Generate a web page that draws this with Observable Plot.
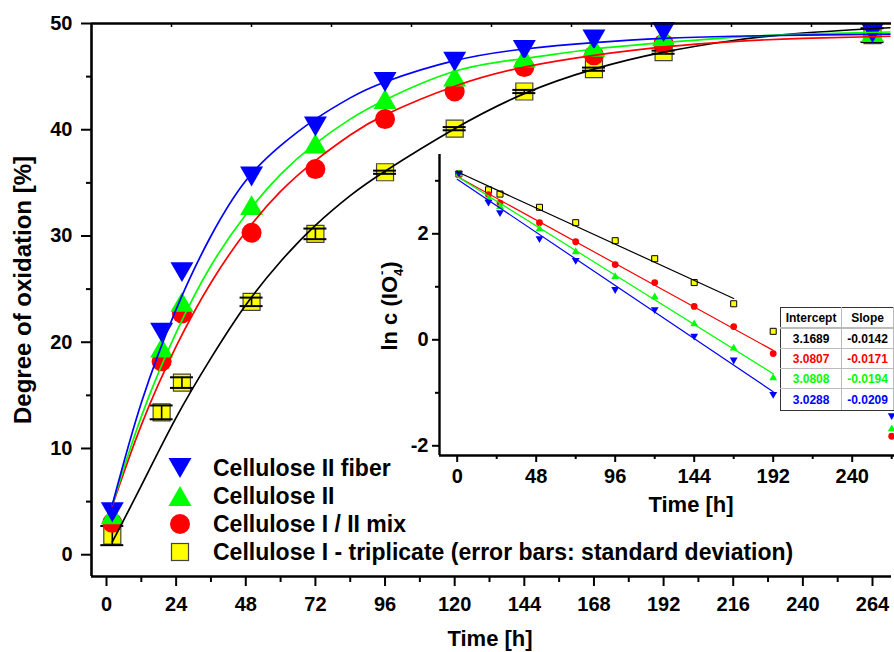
<!DOCTYPE html>
<html>
<head>
<meta charset="utf-8">
<script src="https://cdn.jsdelivr.net/npm/d3@7"></script>
<script src="https://cdn.jsdelivr.net/npm/@observablehq/plot@0.6"></script>
<style>
  body { margin: 0; background: #fff; }
  #wrap { position: relative; width: 894px; height: 652px; overflow: hidden; background: #fff;
          font-family: "Liberation Sans", Arial, sans-serif; font-weight: bold; color: #000; }
  .abs { position: absolute; white-space: nowrap; line-height: 1; }
  .title { font-size: 22px; transform: translate(-50%, -50%); }
  .vtitle { font-size: 22px; transform: translate(-50%, -50%) rotate(-90deg); }
  .leg { position: absolute; left: 168px; height: 24px; display: flex; align-items: center; font-size: 23px; white-space: nowrap; }
  .leg svg { width: 24px; height: 24px; margin-right: 21px; overflow: visible; }
  table.fit { position: absolute; left: 780px; top: 307px; border-collapse: collapse; background: #fff;
              font-size: 12px; font-weight: bold; border: 1.5px solid #333; }
  table.fit td { border: 1.5px solid #bbb; text-align: center; padding: 0; height: 19px; }
  table.fit tr:first-child td { border-bottom: 2.5px solid #bbb; }
  table.fit tr:last-child td { height: 21px; }
  table.fit td:first-child { width: 63px; border-left: 1.5px solid #333; }
  table.fit td:last-child { width: 54px; }
  table.fit tr:last-child td { border-bottom: 1.5px solid #333; }
  table.fit tr:first-child td { border-top: 1.5px solid #333; }
</style>
</head>
<body>
<div id="wrap"></div>
<script>
// ---------------- data ----------------
const seriesNames = ["Cellulose II fiber", "Cellulose II", "Cellulose I / II mix", "Cellulose I - triplicate (error bars: standard deviation)"];
const seriesColors = ["#0000ff", "#00ff00", "#ff0000", "#ffff00"];
const lineColors = ["#0000ff", "#00ff00", "#ff0000", "#000000"];

// main chart: degree of oxidation [%] vs time [h]
const times = [2, 19, 26, 50, 72, 96, 120, 144, 168, 192, 264];
const fiberDO = [4.0, 20.9, 26.6, 35.6, 40.3, 44.5, 46.4, 47.5, 48.5, 49.2, 49.1];
const cellIIDO = [3.8, 19.5, 23.8, 32.9, 38.7, 42.9, 45.0, 46.8, 47.8, 48.8, 49.2];
const mixDO = [3.0, 18.2, 22.7, 30.3, 36.3, 41.0, 43.6, 45.9, 47.0, 48.1, null];
const cellIDO = [1.8, 13.4, 16.2, 23.8, 30.2, 36.0, 40.1, 43.6, 45.7, 47.3, 48.9];
const cellISD = [0.9, 0.65, 0.5, 0.4, 0.5, 0.15, 0.15, 0.15, 0.15, 0.15, 0.65];

// fitted curves
const fitT = [2, 12, 24, 36, 48, 60, 72, 84, 96, 120, 144, 168, 192, 216, 240, 270];
const fiberFit = [4.7, 14.3, 23.1, 30.0, 35.2, 38.5, 41.0, 43.0, 44.5, 46.5, 47.6, 48.2, 48.6, 48.8, 48.9, 49.0];
const cellIIFit = [4.7, 13.0, 20.9, 27.2, 32.0, 35.8, 38.7, 41.0, 42.8, 45.5, 46.7, 47.6, 48.2, 48.7, 49.0, 49.2];
const mixFit = [4.6, 12.2, 19.6, 25.6, 30.4, 34.2, 37.1, 39.5, 41.4, 44.1, 45.9, 47.0, 47.8, 48.3, 48.6, 48.8];
const cellIFit = [1.2, 6.5, 12.9, 18.5, 23.5, 27.6, 31.0, 33.8, 36.1, 40.1, 43.4, 45.7, 47.3, 48.4, 49.1, 49.6];

// inset: ln c(IO4-) vs time [h]
const insetT = [1, 19, 26, 50, 72, 96, 120, 144, 168, 192, 264];
const fiberLn = [3.12, 2.58, 2.38, 1.89, 1.48, 0.93, 0.55, 0.05, -0.40, -1.05, -1.45];
const cellIILn = [3.15, 2.68, 2.53, 2.11, 1.68, 1.21, 0.83, 0.32, -0.14, -0.70, -1.66];
const mixLn = [3.12, 2.74, 2.58, 2.21, 1.85, 1.42, 1.08, 0.63, 0.25, -0.26, -1.82];
const cellILn = [3.13, 2.83, 2.75, 2.50, 2.21, 1.87, 1.53, 1.08, 0.68, 0.16];
// linear fit lines: [t start, ln start, t end, ln end]
const fiberLine = [0, 3.03, 192, -0.98];
const cellIILine = [0, 3.08, 192, -0.64];
const mixLine = [0, 3.08, 192, -0.20];
const cellILine = [0, 3.17, 168, 0.78];

// fit table
const tableHeader = ["Intercept", "Slope"];
const intercepts = ["3.1689", "3.0807", "3.0808", "3.0288"];
const slopes = ["-0.0142", "-0.0171", "-0.0194", "-0.0209"];
const tableColors = ["#000000", "#ff0000", "#00ff00", "#0000ff"];

// axes ticks
const xTicks = [0, 24, 48, 72, 96, 120, 144, 168, 192, 216, 240, 264];
const xMinor = [12, 36, 60, 84, 108, 132, 156, 180, 204, 228, 252];
const yTicks = [0, 10, 20, 30, 40, 50];
const yMinor = [5, 15, 25, 35, 45];
const ixTicks = [0, 48, 96, 144, 192, 240];
const ixMinor = [24, 72, 120, 168, 216, 264];
const iyTicks = [-2, 0, 2];
const iyMinor = [-1, 1, 3];

// ---------------- symbols ----------------
const triDown = { draw(ctx, size) { const r = Math.sqrt(size / Math.PI), hw = r * 1.35, hh = r * 1.17;
  ctx.moveTo(-hw, -hh); ctx.lineTo(hw, -hh); ctx.lineTo(0, hh); ctx.closePath(); } };
const triUp = { draw(ctx, size) { const r = Math.sqrt(size / Math.PI), hw = r * 1.35, hh = r * 1.17;
  ctx.moveTo(0, -hh); ctx.lineTo(hw, hh); ctx.lineTo(-hw, hh); ctx.closePath(); } };

const FONT = '"Liberation Sans", Arial, sans-serif';
const wrap = document.getElementById("wrap");

const rows = (xs, ys) => xs.map((t, i) => ({ t, v: ys[i] })).filter(d => d.v !== undefined && d.v !== null);
const seg = a => [{ t: a[0], v: a[1] }, { t: a[2], v: a[3] }];

// ---------------- main chart ----------------
const pxX = 766 / 264;          // pixels per hour
const xLo = -15 / pxX, xHi = xLo + 800 / pxX;
const yLo = -2.05, yHi = 50;
const pxY = 553 / (yHi - yLo);

const yellowRows = times.map((t, i) => ({ t, v: cellIDO[i], sd: cellISD[i] }));
const capHalf = 11.5 / pxX;

const main = Plot.plot({
  width: 894, height: 652,
  marginLeft: 91, marginRight: 3, marginTop: 23, marginBottom: 76,
  x: { domain: [xLo, xHi], axis: null },
  y: { domain: [yLo, yHi], axis: null },
  style: { fontFamily: FONT, background: "transparent", overflow: "visible" },
  marks: [
    // markers
    Plot.dot(rows(times, cellIDO), { x: "t", y: "v", symbol: "square", r: 9.6, fill: seriesColors[3], stroke: "#444", strokeWidth: 1.2 }),
    Plot.ruleX(yellowRows, { x: "t", y1: d => d.v - d.sd, y2: d => d.v + d.sd, stroke: "#000", strokeWidth: 1.6 }),
    Plot.ruleY(yellowRows, { y: d => d.v - d.sd, x1: d => d.t - capHalf, x2: d => d.t + capHalf, stroke: "#000", strokeWidth: 2 }),
    Plot.ruleY(yellowRows, { y: d => d.v + d.sd, x1: d => d.t - capHalf, x2: d => d.t + capHalf, stroke: "#000", strokeWidth: 2 }),
    Plot.dot(rows(times, mixDO), { x: "t", y: "v", symbol: "circle", r: 10, fill: seriesColors[2] }),
    Plot.dot(rows(times, cellIIDO), { x: "t", y: "v", symbol: triUp, r: 8.5, fill: seriesColors[1] }),
    Plot.dot(rows(times, fiberDO), { x: "t", y: "v", symbol: triDown, r: 8.5, fill: seriesColors[0] }),
    // fitted curves
    Plot.line(rows(fitT, cellIFit), { x: "t", y: "v", stroke: lineColors[3], strokeWidth: 1.7, curve: "natural" }),
    Plot.line(rows(fitT, mixFit), { x: "t", y: "v", stroke: lineColors[2], strokeWidth: 1.7, curve: "natural" }),
    Plot.line(rows(fitT, cellIIFit), { x: "t", y: "v", stroke: lineColors[1], strokeWidth: 1.7, curve: "natural" }),
    Plot.line(rows(fitT, fiberFit), { x: "t", y: "v", stroke: lineColors[0], strokeWidth: 1.7, curve: "natural" }),
    // frame
    Plot.ruleY([yLo], { x1: xLo, x2: xHi, stroke: "#000", strokeWidth: 2.6 }),
    Plot.ruleY([yHi], { x1: xLo, x2: xHi, stroke: "#000", strokeWidth: 2.6 }),
    Plot.ruleX([xLo], { y1: yLo, y2: yHi, stroke: "#000", strokeWidth: 2.6 }),
    // ticks
    Plot.ruleX(xTicks, { x: d => d, y1: yLo, y2: yLo - 10 / pxY, stroke: "#000", strokeWidth: 2 }),
    Plot.ruleX(xMinor, { x: d => d, y1: yLo, y2: yLo - 6 / pxY, stroke: "#000", strokeWidth: 2 }),
    Plot.ruleX(d3.range(1, 10).map(k => xLo + k * (xHi - xLo) / 10), { x: d => d, y1: yHi, y2: yHi - 4 / pxY, stroke: "#000", strokeWidth: 1.5 }),
    Plot.ruleY(yTicks, { y: d => d, x1: xLo, x2: xLo - 10 / pxX, stroke: "#000", strokeWidth: 2 }),
    Plot.ruleY(yMinor, { y: d => d, x1: xLo, x2: xLo - 5 / pxX, stroke: "#000", strokeWidth: 2 }),
    Plot.text(xTicks, { x: d => d, y: yLo, dy: 28, text: d => String(d), fontSize: 20, fontWeight: "bold", fill: "#000" }),
    Plot.text(yTicks, { x: xLo, y: d => d, dx: -19, textAnchor: "end", text: d => String(d), fontSize: 20, fontWeight: "bold", fill: "#000" })
  ]
});
main.style.position = "absolute"; main.style.left = "0px"; main.style.top = "0px";
wrap.appendChild(main);

// ---------------- inset ----------------
const ipxX = 79 / 48;
const ixLo = -(456.7 - 439) / ipxX, ixHi = ixLo + 455 / ipxX;
const ipxY = 53;
const iyLo = (339.3 - 455) / ipxY, iyHi = (339.3 - 154) / ipxY;

const inset = Plot.plot({
  width: 514, height: 390,
  marginLeft: 59, marginRight: 0, marginTop: 14, marginBottom: 75,
  x: { domain: [ixLo, ixHi], axis: null },
  y: { domain: [iyLo, iyHi], axis: null },
  style: { fontFamily: FONT, background: "transparent", overflow: "visible" },
  marks: [
    Plot.dot(rows(insetT, cellILn), { x: "t", y: "v", symbol: "square", r: 3.4, fill: seriesColors[3], stroke: "#000", strokeWidth: 1, clip: true }),
    Plot.dot(rows(insetT, mixLn), { x: "t", y: "v", symbol: "circle", r: 3.4, fill: seriesColors[2], clip: true }),
    Plot.dot(rows(insetT, cellIILn), { x: "t", y: "v", symbol: triUp, r: 2.9, fill: seriesColors[1], clip: true }),
    Plot.dot(rows(insetT, fiberLn), { x: "t", y: "v", symbol: triDown, r: 2.9, fill: seriesColors[0], clip: true }),
    Plot.line(seg(cellILine), { x: "t", y: "v", stroke: lineColors[3], strokeWidth: 1.2 }),
    Plot.line(seg(mixLine), { x: "t", y: "v", stroke: lineColors[2], strokeWidth: 1.2 }),
    Plot.line(seg(cellIILine), { x: "t", y: "v", stroke: lineColors[1], strokeWidth: 1.2 }),
    Plot.line(seg(fiberLine), { x: "t", y: "v", stroke: lineColors[0], strokeWidth: 1.2 }),
    Plot.ruleY([iyLo], { x1: ixLo, x2: ixHi, stroke: "#000", strokeWidth: 2.4 }),
    Plot.ruleX([ixLo], { y1: iyLo, y2: iyHi, stroke: "#000", strokeWidth: 2.4 }),
    Plot.ruleX(ixTicks, { x: d => d, y1: iyLo, y2: iyLo - 7 / ipxY, stroke: "#000", strokeWidth: 2 }),
    Plot.ruleX(ixMinor, { x: d => d, y1: iyLo, y2: iyLo - 4 / ipxY, stroke: "#000", strokeWidth: 2 }),
    Plot.ruleY(iyTicks, { y: d => d, x1: ixLo, x2: ixLo - 7 / ipxX, stroke: "#000", strokeWidth: 2 }),
    Plot.ruleY(iyMinor, { y: d => d, x1: ixLo, x2: ixLo - 4 / ipxX, stroke: "#000", strokeWidth: 2 }),
    Plot.text(ixTicks, { x: d => d, y: iyLo, dy: 21, text: d => String(d), fontSize: 20, fontWeight: "bold", fill: "#000" }),
    Plot.text(iyTicks, { x: ixLo, y: d => d, dx: -11, textAnchor: "end", text: d => String(d), fontSize: 20, fontWeight: "bold", fill: "#000" })
  ]
});
inset.style.position = "absolute"; inset.style.left = "380px"; inset.style.top = "140px";
wrap.appendChild(inset);

// ---------------- titles ----------------
function addDiv(cls, html, left, top, size) {
  const d = document.createElement("div");
  d.className = "abs " + cls; d.innerHTML = html;
  d.style.left = left + "px"; d.style.top = top + "px";
  if (size) d.style.fontSize = size + "px";
  wrap.appendChild(d); return d;
}
addDiv("title", "Time [h]", 490, 639);
addDiv("vtitle", "Degree of oxidation [%]", 23, 290, 24);
addDiv("title", "Time [h]", 691, 505);
addDiv("vtitle", 'ln c (IO<span style="display:inline-block;vertical-align:-6px;font-size:13px;line-height:1;position:relative;">4<span style="position:absolute;left:1px;top:-17px;">-</span></span>)', 392, 306);

// ---------------- legend ----------------
const legendOrder = [0, 1, 2, 3];
const legendSym = [
  '<polygon points="0.5,2 23.5,2 12,22" fill="#0000ff"/>',
  '<polygon points="12,2 23.5,22 0.5,22" fill="#00ff00"/>',
  '<circle cx="12" cy="12" r="10" fill="#ff0000"/>',
  '<rect x="3.5" y="3.5" width="17" height="17" fill="#ffff00" stroke="#444" stroke-width="1.2"/>'
];
const legendY = [468, 496, 524, 552];
legendOrder.forEach((s, i) => {
  const d = document.createElement("div");
  d.className = "leg";
  d.style.top = (legendY[i] - 12) + "px";
  d.innerHTML = `<svg viewBox="0 0 24 24">${legendSym[s]}</svg><span>${seriesNames[s]}</span>`;
  wrap.appendChild(d);
});

// ---------------- fit table ----------------
const tbl = document.createElement("table");
tbl.className = "fit";
let html = `<tr><td>${tableHeader[0]}</td><td>${tableHeader[1]}</td></tr>`;
intercepts.forEach((v, i) => {
  html += `<tr style="color:${tableColors[i]}"><td>${v}</td><td>${slopes[i]}</td></tr>`;
});
tbl.innerHTML = html;
wrap.appendChild(tbl);
</script>
</body>
</html>
